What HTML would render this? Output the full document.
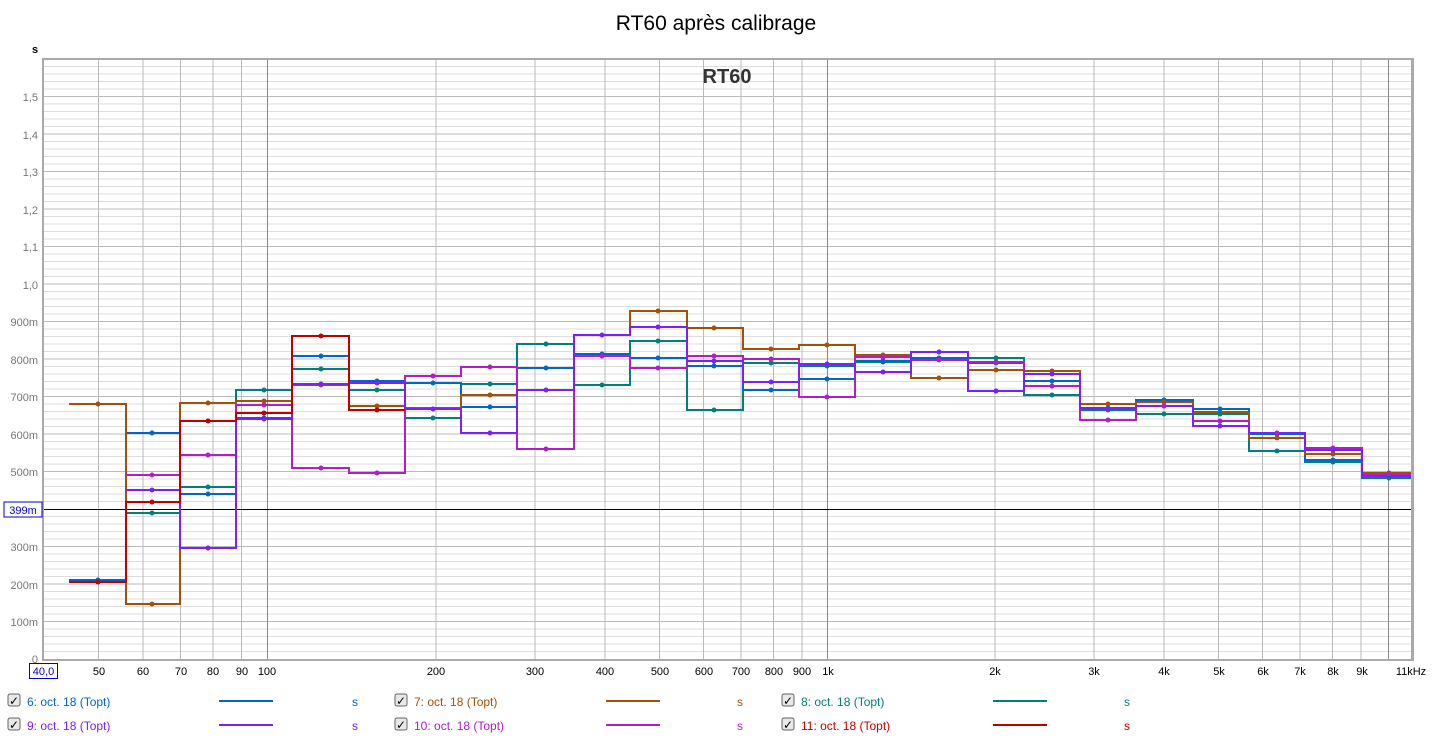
<!DOCTYPE html>
<html><head><meta charset="utf-8"><style>
body{margin:0;background:#fff;font-family:"Liberation Sans",sans-serif}
</style></head><body>
<svg width="1433" height="740" xmlns="http://www.w3.org/2000/svg" font-family="Liberation Sans, sans-serif">
<rect width="1433" height="740" fill="#fff"/>
<text x="716" y="30" font-size="21" text-anchor="middle" fill="#000">RT60 après calibrage</text>
<text x="35" y="53" font-size="11" fill="#000" font-weight="bold" text-anchor="middle">s</text>
<!-- frame -->
<rect x="42" y="58" width="1372" height="603" fill="#aaa"/>
<rect x="44" y="60" width="1367" height="599" fill="#fff"/>
<g stroke="#ddd" stroke-width="1">
<path d="M44 66.5H1411M44 74H1411M44 81.5H1411M44 89H1411M44 104H1411M44 111.5H1411M44 119H1411M44 126.5H1411M44 141.5H1411M44 149H1411M44 156.5H1411M44 164H1411M44 179H1411M44 186.5H1411M44 194H1411M44 201.5H1411M44 216.5H1411M44 224H1411M44 231.5H1411M44 239H1411M44 254H1411M44 261.5H1411M44 269H1411M44 276.5H1411M44 291.5H1411M44 299H1411M44 306.5H1411M44 314H1411M44 329H1411M44 336.5H1411M44 344H1411M44 351.5H1411M44 366.5H1411M44 374H1411M44 381.5H1411M44 389H1411M44 404H1411M44 411.5H1411M44 419H1411M44 426.5H1411M44 441.5H1411M44 449H1411M44 456.5H1411M44 464H1411M44 479H1411M44 486.5H1411M44 494H1411M44 501.5H1411M44 516.5H1411M44 524H1411M44 531.5H1411M44 539H1411M44 554H1411M44 561.5H1411M44 569H1411M44 576.5H1411M44 591.5H1411M44 599H1411M44 606.5H1411M44 614H1411M44 629H1411M44 636.5H1411M44 644H1411M44 651.5H1411"/>
</g>
<g stroke="#bbb" stroke-width="1">
<path d="M44 96.5H1411M44 134H1411M44 171.5H1411M44 209H1411M44 246.5H1411M44 284H1411M44 321.5H1411M44 359H1411M44 396.5H1411M44 434H1411M44 471.5H1411M44 546.5H1411M44 584H1411M44 621.5H1411"/>
<path d="M98.5 60V659M143 60V659M180.5 60V659M213 60V659M241.5 60V659M436 60V659M535 60V659M605 60V659M659.5 60V659M703.5 60V659M741 60V659M773.5 60V659M802 60V659M995 60V659M1094 60V659M1164 60V659M1218.5 60V659M1262.5 60V659M1300 60V659M1332.5 60V659M1361 60V659"/>
</g>
<g stroke="#888" stroke-width="1"><path d="M267.5 60V659M827.5 60V659M1388.5 60V659"/></g>
<line x1="44" y1="509.5" x2="1411" y2="509.5" stroke="#000" stroke-width="1"/>
<text x="727" y="83" font-size="20" font-weight="bold" text-anchor="middle" fill="#333">RT60</text>
<!-- y labels -->
<g font-size="11" fill="#777" text-anchor="end">
<text x="38" y="101">1,5</text><text x="38" y="139">1,4</text><text x="38" y="176">1,3</text><text x="38" y="214">1,2</text><text x="38" y="251">1,1</text><text x="38" y="289">1,0</text><text x="38" y="326">900m</text><text x="38" y="364">800m</text><text x="38" y="401">700m</text><text x="38" y="439">600m</text><text x="38" y="476">500m</text><text x="38" y="551">300m</text><text x="38" y="589">200m</text><text x="38" y="626">100m</text><text x="38" y="663">0</text>
</g>
<rect x="4" y="502" width="38" height="15" fill="#fff" stroke="#00c" stroke-width="1"/>
<text x="23" y="514" font-size="11" fill="#00c" text-anchor="middle">399m</text>
<!-- x labels -->
<rect x="29.5" y="663.5" width="28" height="15" fill="#fff" stroke="#00c"/>
<text x="43.5" y="675" font-size="11" fill="#00c" text-anchor="middle">40,0</text>
<g font-size="11" fill="#000" text-anchor="middle">
<text x="99" y="675">50</text><text x="143" y="675">60</text><text x="181" y="675">70</text><text x="213" y="675">80</text><text x="242" y="675">90</text><text x="267" y="675">100</text><text x="436" y="675">200</text><text x="535" y="675">300</text><text x="605" y="675">400</text><text x="660" y="675">500</text><text x="704" y="675">600</text><text x="741" y="675">700</text><text x="774" y="675">800</text><text x="802" y="675">900</text><text x="828" y="675">1k</text><text x="995" y="675">2k</text><text x="1094" y="675">3k</text><text x="1164" y="675">4k</text><text x="1219" y="675">5k</text><text x="1263" y="675">6k</text><text x="1300" y="675">7k</text><text x="1333" y="675">8k</text><text x="1362" y="675">9k</text><text x="1411" y="675">11kHz</text>
</g>
<!-- series -->
<g fill="none" stroke-width="2">
<path stroke="#00807a" d="M126 513H180V487H236V390H292V369H349V390H405V418H461V384H517V344H574V385H630V341H687V410H743V363H799V366H855V362H911V359H968V358H1024V395H1080V410H1136V414H1193V414H1249V451H1305V462H1362V478H1411"/>
<path stroke="#0066cc" d="M69 580H126V433H180V494H236V418H292V356H349V381H405V383H461V407H517V368H574V354H630V358H687V366H743V390H799V379H855V361H911V358H968V363H1024V381H1080V408H1136V400H1193V409H1249V434H1305V460H1362V476H1411"/>
<path stroke="#a0520a" d="M69 404H126V604H180V403H236V401H292V385H349V406H405V408H461V395H517V390H574V335H630V311H687V328H743V349H799V345H855V355H911V378H968V370H1024V371H1080V404H1136V402H1193V412H1249V438H1305V454H1362V473H1411"/>
<path stroke="#b01ec8" d="M126 475H180V455H236V405H292V468H349V473H405V376H461V367H517V449H574V356H630V368H687V356H743V359H799V397H855V357H911V360H968V362H1024V386H1080V420H1136V406H1193V421H1249V433H1305V448H1362V474H1411"/>
<path stroke="#7a1fff" d="M126 490H180V548H236V419H292V384H349V383H405V409H461V433H517V390H574V335H630V327H687V361H743V382H799V364H855V372H911V352H968V391H1024V374H1080V409H1136V406H1193V426H1249V433H1305V450H1362V476H1411"/>
<path stroke="#c00000" d="M69 582H126V502H180V421H236V413H292V336H349V410H405"/>
</g>
<g>
<g fill="#00807a"><circle cx="152" cy="513" r="2.5"/><circle cx="208" cy="487" r="2.5"/><circle cx="264" cy="390" r="2.5"/><circle cx="321" cy="369" r="2.5"/><circle cx="377" cy="390" r="2.5"/><circle cx="433" cy="418" r="2.5"/><circle cx="490" cy="384" r="2.5"/><circle cx="546" cy="344" r="2.5"/><circle cx="602" cy="385" r="2.5"/><circle cx="658" cy="341" r="2.5"/><circle cx="714" cy="410" r="2.5"/><circle cx="771" cy="363" r="2.5"/><circle cx="827" cy="366" r="2.5"/><circle cx="883" cy="362" r="2.5"/><circle cx="939" cy="359" r="2.5"/><circle cx="996" cy="358" r="2.5"/><circle cx="1052" cy="395" r="2.5"/><circle cx="1108" cy="410" r="2.5"/><circle cx="1164" cy="414" r="2.5"/><circle cx="1220" cy="414" r="2.5"/><circle cx="1277" cy="451" r="2.5"/><circle cx="1333" cy="462" r="2.5"/><circle cx="1389" cy="478" r="2.5"/></g>
<g fill="#0066cc"><circle cx="98" cy="580" r="2.5"/><circle cx="152" cy="433" r="2.5"/><circle cx="208" cy="494" r="2.5"/><circle cx="264" cy="418" r="2.5"/><circle cx="321" cy="356" r="2.5"/><circle cx="377" cy="381" r="2.5"/><circle cx="433" cy="383" r="2.5"/><circle cx="490" cy="407" r="2.5"/><circle cx="546" cy="368" r="2.5"/><circle cx="602" cy="354" r="2.5"/><circle cx="658" cy="358" r="2.5"/><circle cx="714" cy="366" r="2.5"/><circle cx="771" cy="390" r="2.5"/><circle cx="827" cy="379" r="2.5"/><circle cx="883" cy="361" r="2.5"/><circle cx="939" cy="358" r="2.5"/><circle cx="996" cy="363" r="2.5"/><circle cx="1052" cy="381" r="2.5"/><circle cx="1108" cy="408" r="2.5"/><circle cx="1164" cy="400" r="2.5"/><circle cx="1220" cy="409" r="2.5"/><circle cx="1277" cy="434" r="2.5"/><circle cx="1333" cy="460" r="2.5"/><circle cx="1389" cy="476" r="2.5"/></g>
<g fill="#a0520a"><circle cx="98" cy="404" r="2.5"/><circle cx="152" cy="604" r="2.5"/><circle cx="208" cy="403" r="2.5"/><circle cx="264" cy="401" r="2.5"/><circle cx="321" cy="385" r="2.5"/><circle cx="377" cy="406" r="2.5"/><circle cx="490" cy="395" r="2.5"/><circle cx="658" cy="311" r="2.5"/><circle cx="714" cy="328" r="2.5"/><circle cx="771" cy="349" r="2.5"/><circle cx="827" cy="345" r="2.5"/><circle cx="883" cy="355" r="2.5"/><circle cx="939" cy="378" r="2.5"/><circle cx="996" cy="370" r="2.5"/><circle cx="1052" cy="371" r="2.5"/><circle cx="1108" cy="404" r="2.5"/><circle cx="1164" cy="402" r="2.5"/><circle cx="1277" cy="438" r="2.5"/><circle cx="1333" cy="454" r="2.5"/><circle cx="1389" cy="473" r="2.5"/></g>
<g fill="#b01ec8"><circle cx="152" cy="475" r="2.5"/><circle cx="208" cy="455" r="2.5"/><circle cx="264" cy="405" r="2.5"/><circle cx="321" cy="468" r="2.5"/><circle cx="377" cy="473" r="2.5"/><circle cx="433" cy="376" r="2.5"/><circle cx="490" cy="367" r="2.5"/><circle cx="546" cy="449" r="2.5"/><circle cx="602" cy="356" r="2.5"/><circle cx="658" cy="368" r="2.5"/><circle cx="714" cy="356" r="2.5"/><circle cx="771" cy="359" r="2.5"/><circle cx="827" cy="397" r="2.5"/><circle cx="883" cy="357" r="2.5"/><circle cx="939" cy="360" r="2.5"/><circle cx="996" cy="362" r="2.5"/><circle cx="1052" cy="386" r="2.5"/><circle cx="1108" cy="420" r="2.5"/><circle cx="1164" cy="406" r="2.5"/><circle cx="1220" cy="421" r="2.5"/><circle cx="1277" cy="433" r="2.5"/><circle cx="1333" cy="448" r="2.5"/><circle cx="1389" cy="474" r="2.5"/></g>
<g fill="#7a1fff"><circle cx="152" cy="490" r="2.5"/><circle cx="208" cy="548" r="2.5"/><circle cx="264" cy="419" r="2.5"/><circle cx="321" cy="384" r="2.5"/><circle cx="377" cy="383" r="2.5"/><circle cx="433" cy="409" r="2.5"/><circle cx="490" cy="433" r="2.5"/><circle cx="546" cy="390" r="2.5"/><circle cx="602" cy="335" r="2.5"/><circle cx="658" cy="327" r="2.5"/><circle cx="714" cy="361" r="2.5"/><circle cx="771" cy="382" r="2.5"/><circle cx="827" cy="364" r="2.5"/><circle cx="883" cy="372" r="2.5"/><circle cx="939" cy="352" r="2.5"/><circle cx="996" cy="391" r="2.5"/><circle cx="1052" cy="374" r="2.5"/><circle cx="1108" cy="409" r="2.5"/><circle cx="1220" cy="426" r="2.5"/><circle cx="1333" cy="450" r="2.5"/></g>
<g fill="#c00000"><circle cx="98" cy="582" r="2.5"/><circle cx="152" cy="502" r="2.5"/><circle cx="208" cy="421" r="2.5"/><circle cx="264" cy="413" r="2.5"/><circle cx="321" cy="336" r="2.5"/><circle cx="377" cy="410" r="2.5"/></g>
</g>
<!-- legend -->
<g font-size="12">
<g fill="#e8e8e8" stroke="#666"><rect x="8" y="694" width="12" height="12" rx="2"/><rect x="8" y="718" width="12" height="12" rx="2"/><rect x="395" y="694" width="12" height="12" rx="2"/><rect x="395" y="718" width="12" height="12" rx="2"/><rect x="782" y="694" width="12" height="12" rx="2"/><rect x="782" y="718" width="12" height="12" rx="2"/></g>
<g fill="#000" font-size="12" text-anchor="middle"><text x="14" y="705">✓</text><text x="14" y="729">✓</text><text x="401" y="705">✓</text><text x="401" y="729">✓</text><text x="788" y="705">✓</text><text x="788" y="729">✓</text></g>
<text x="27" y="706" fill="#0066cc">6: oct. 18 (Topt)</text>
<text x="27" y="730" fill="#7a1fff">9: oct. 18 (Topt)</text>
<text x="414" y="706" fill="#a0520a">7: oct. 18 (Topt)</text>
<text x="414" y="730" fill="#b01ec8">10: oct. 18 (Topt)</text>
<text x="801" y="706" fill="#00807a">8: oct. 18 (Topt)</text>
<text x="801" y="730" fill="#c00000">11: oct. 18 (Topt)</text>
<g stroke-width="2"><line x1="219" y1="701" x2="273" y2="701" stroke="#0066cc"/><line x1="219" y1="725" x2="273" y2="725" stroke="#7a1fff"/><line x1="606" y1="701" x2="660" y2="701" stroke="#a0520a"/><line x1="606" y1="725" x2="660" y2="725" stroke="#b01ec8"/><line x1="993" y1="701" x2="1047" y2="701" stroke="#00807a"/><line x1="993" y1="725" x2="1047" y2="725" stroke="#c00000"/></g>
<text x="352" y="706" fill="#0066cc">s</text><text x="352" y="730" fill="#7a1fff">s</text>
<text x="737" y="706" fill="#a0520a">s</text><text x="737" y="730" fill="#b01ec8">s</text>
<text x="1124" y="706" fill="#00807a">s</text><text x="1124" y="730" fill="#c00000">s</text>
</g>
</svg>
</body></html>
